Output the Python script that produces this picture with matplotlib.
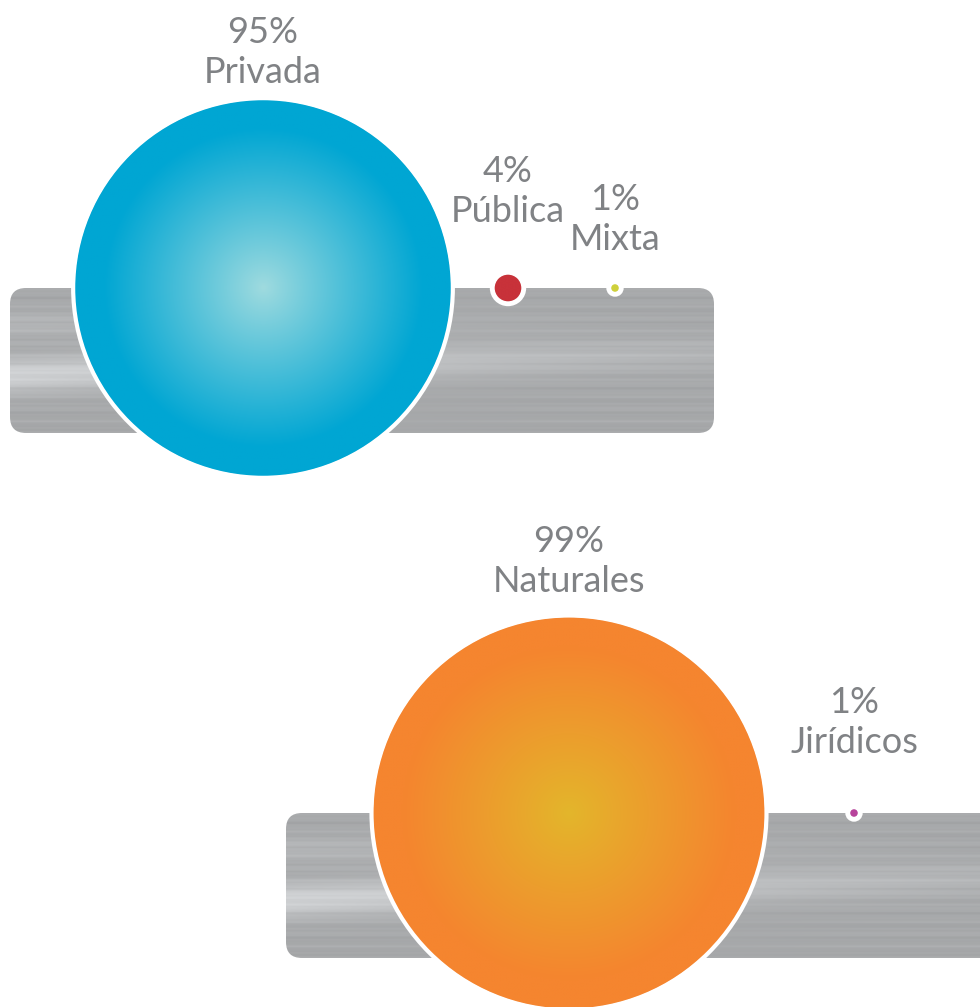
import numpy as np
import matplotlib
matplotlib.use('Agg')
import matplotlib.pyplot as plt
from matplotlib.patches import Circle, FancyBboxPatch

# tipo de empresa
sector_labels = ['Privada', 'Pública', 'Mixta']
sector_values = [95, 4, 1]
sector_colors = [('#a0dbdf', '#00a6d3'), ('#c8323a', '#c8323a'), ('#cfd13c', '#cfd13c')]

# tipo de persona
persona_labels = ['Naturales', 'Jirídicos']
persona_values = [99, 1]
persona_colors = [('#e3b62b', '#f5852f'), ('#b8449c', '#b8449c')]

TEXT_GRAY = '#808285'
FONT = ['Lato', 'DejaVu Sans']

# escala de tamaño: porcentaje -> radio en px
SIZE_DOMAIN = [1, 4, 99]
SIZE_RANGE = [4.5, 14, 196]


def radius(v):
    return float(np.interp(v, SIZE_DOMAIN, SIZE_RANGE))


def metal_texture(w, h):
    yy = np.linspace(0, 1, h)[:, None]
    xx = np.linspace(0, 1, w)[None, :]
    base = 0.665 + 0.0 * xx
    # banda clara inclinada, más fuerte a la izquierda
    band_c = 0.6 - 0.15 * xx
    base = base + 0.15 * np.exp(-((yy - band_c) / 0.12) ** 2) * (1.1 - 0.8 * xx)
    base = base + 0.05 * np.exp(-((yy - 0.25) / 0.1) ** 2) * (1 - xx)
    streaks = (0.012 * np.sin(yy * 70) + 0.01 * np.sin(yy * 150 + 1.3)
               + 0.008 * np.sin(yy * 260 + 0.4))
    g = np.clip(base + streaks * (0.6 + 0.4 * np.cos(xx * 7)), 0, 1)
    return np.dstack([g * 0.985, g * 0.995, g * 1.005]).clip(0, 1)


def draw_bar(ax, x0, y0, w, h):
    box = FancyBboxPatch((x0, y0), w, h, boxstyle='round,pad=0,rounding_size=16',
                         facecolor='none', edgecolor='none')
    ax.add_patch(box)
    im = ax.imshow(metal_texture(300, 120), extent=(x0, x0 + w, y0 + h, y0),
                   origin='upper', interpolation='bilinear', zorder=1)
    im.set_clip_path(box)


def draw_bubble(ax, cx, cy, r, colors):
    inner, outer = (np.array(matplotlib.colors.to_rgb(c)) for c in colors)
    n = 200
    t = np.linspace(-1, 1, n)
    d = np.clip(np.sqrt(t[None, :] ** 2 + t[:, None] ** 2), 0, 1)
    k = np.clip(d / 0.85, 0, 1) ** 0.95
    img = inner * (1 - k[..., None]) + outer * k[..., None]
    clip = Circle((cx, cy), r, facecolor='none', edgecolor='none')
    ax.add_patch(clip)
    im = ax.imshow(img, extent=(cx - r, cx + r, cy + r, cy - r), origin='upper',
                   interpolation='bilinear', zorder=3)
    im.set_clip_path(clip)
    # aro blanco por fuera del círculo
    ring = 3.5 if r < 20 else 3
    ax.add_patch(Circle((cx, cy), r + ring / 2, facecolor='none', edgecolor='white',
                        linewidth=ring, zorder=4))


def draw_label(ax, x, y, value, label):
    ax.text(x, y - 40, f'{value}%', ha='center', va='baseline', fontsize=26,
            color=TEXT_GRAY, family=FONT, zorder=5)
    ax.text(x, y, label, ha='center', va='baseline', fontsize=26,
            color=TEXT_GRAY, family=FONT, zorder=5)


fig = plt.figure(figsize=(9.8, 10.07), dpi=100)
ax = fig.add_axes([0, 0, 1, 1])
ax.set_xlim(0, 980)
ax.set_ylim(1007, 0)
ax.set_aspect('equal')
ax.axis('off')

# grupo superior
draw_bar(ax, 10, 288, 704, 145)
top_x = [263, 508, 615]
top_label_y = [83, 222, 250]
for v, lab, c, x, ly in zip(sector_values, sector_labels, sector_colors, top_x, top_label_y):
    draw_bubble(ax, x, 288, radius(v), c)
    draw_label(ax, x, ly, v, lab)

# grupo inferior
draw_bar(ax, 286, 813, 720, 145)
bottom_x = [569, 854]
bottom_label_y = [592, 753]
for v, lab, c, x, ly in zip(persona_values, persona_labels, persona_colors, bottom_x, bottom_label_y):
    draw_bubble(ax, x, 813, radius(v), c)
    draw_label(ax, x, ly, v, lab)

fig.savefig('out.png', dpi=100, facecolor='white')
